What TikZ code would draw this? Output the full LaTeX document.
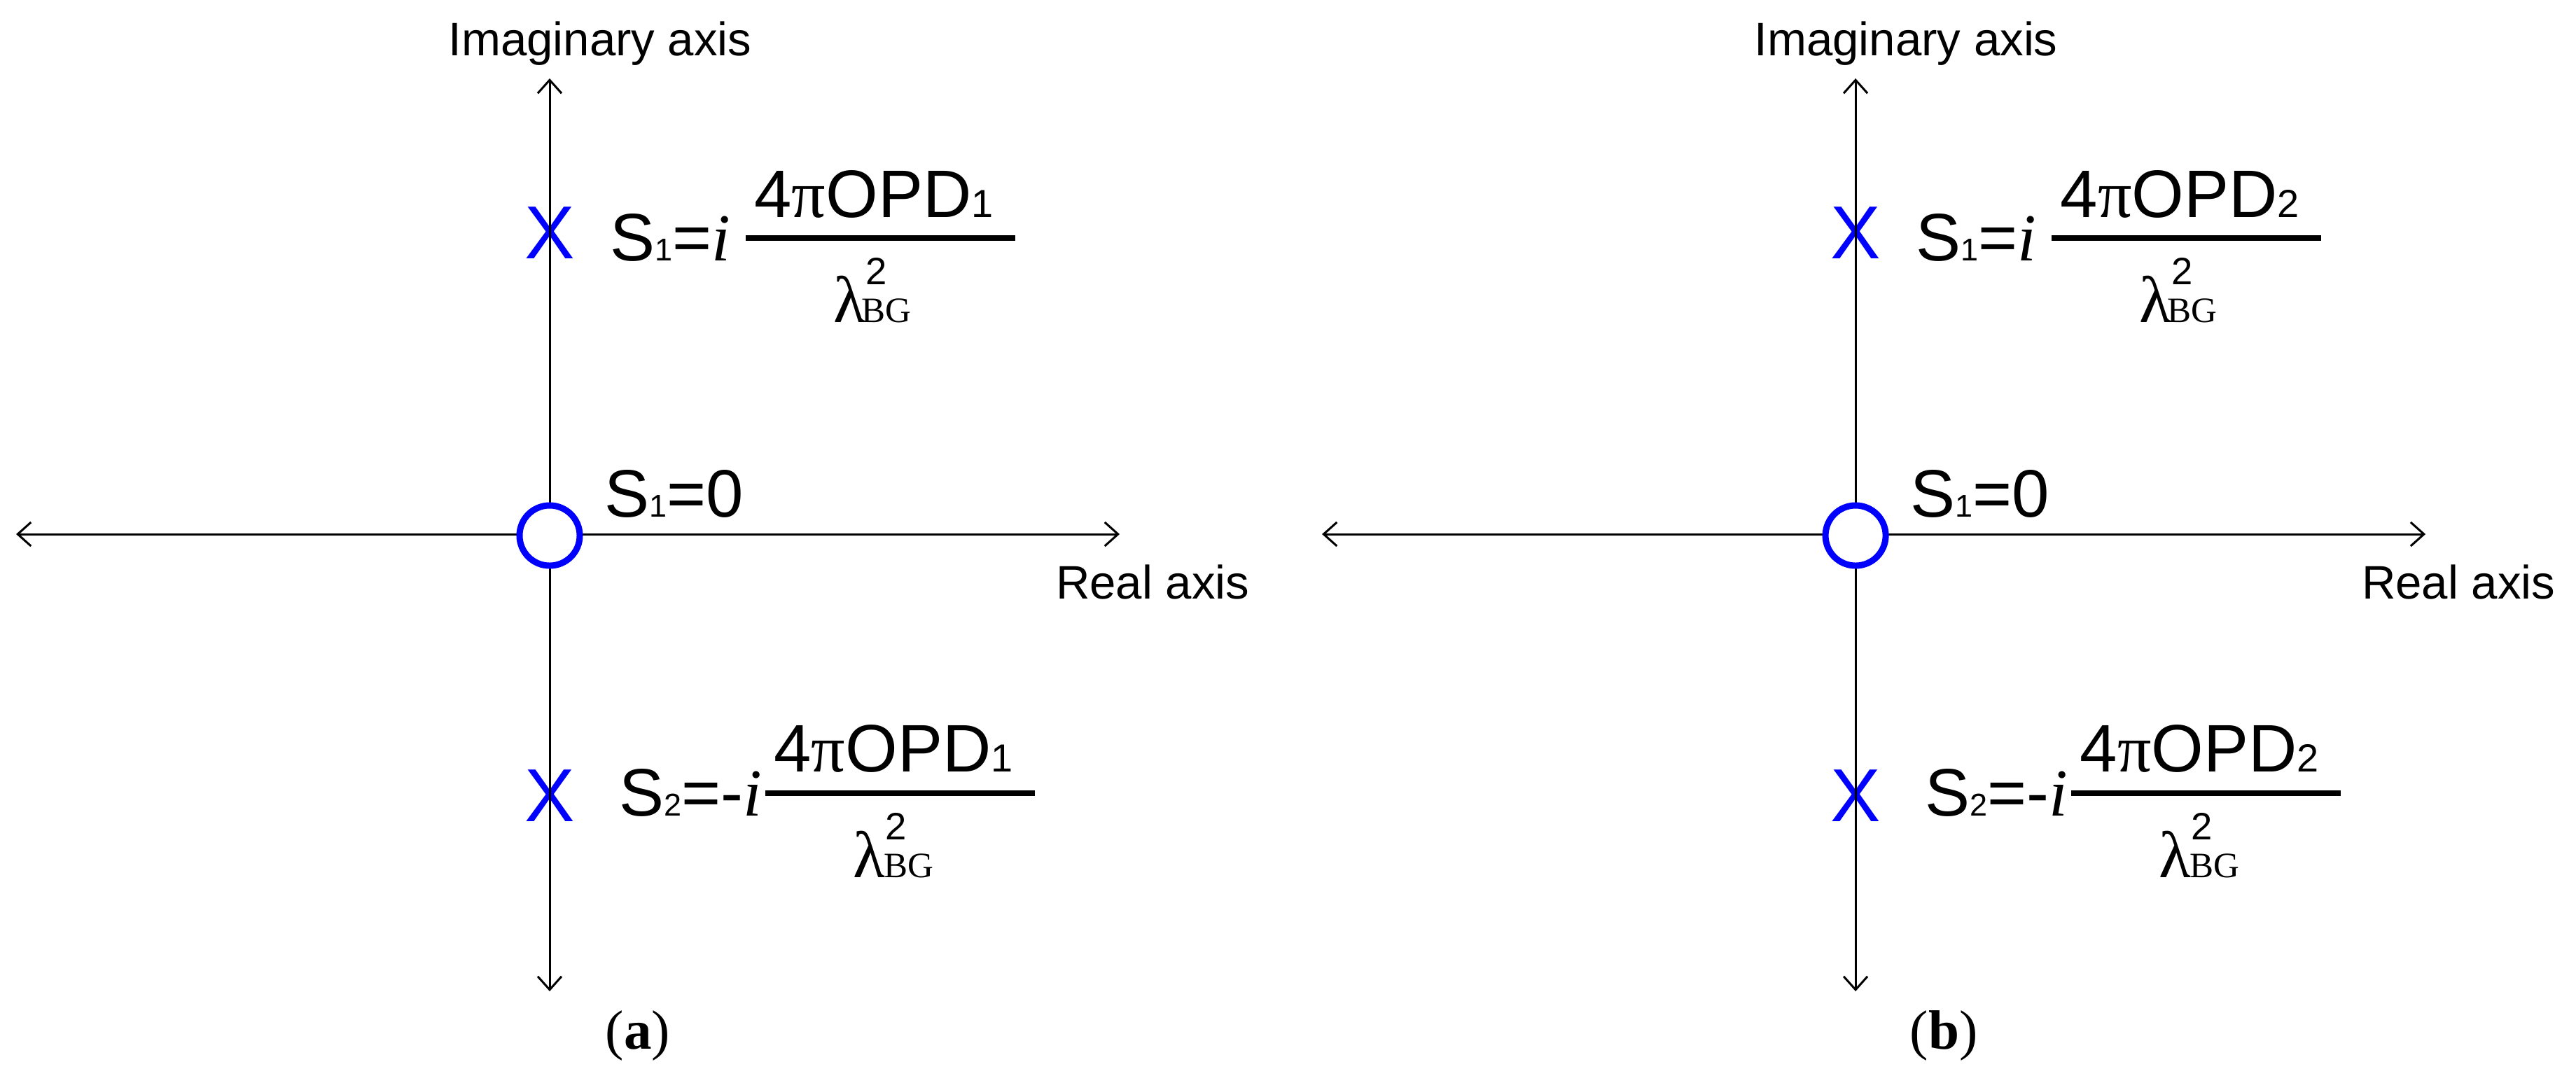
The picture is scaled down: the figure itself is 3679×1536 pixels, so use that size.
\documentclass[tikz,border=0pt]{standalone}
\usepackage{fontspec}
\setmainfont{Liberation Sans}
\newfontfamily\tms{Liberation Serif}
\usetikzlibrary{arrows.meta}
\definecolor{markblue}{RGB}{0,0,255}
\newcommand\fs[1]{\fontsize{#1}{#1}\selectfont}
\tikzset{
  axisline/.style={line width=0.03cm,
    {Straight Barb[length=0.19cm,width=0.34cm]}-{Straight Barb[length=0.19cm,width=0.34cm]}},
  txt/.style={inner sep=0pt, outer sep=0pt, anchor=base west},
  big/.style={txt, font=\fs{27.3}},
  numer/.style={inner sep=0pt, outer sep=0pt, anchor=base, font=\fs{27.3}},
  lam/.style={txt, font=\tms\fs{26.8}},
  supr/.style={txt, font=\fs{15.5}},
  bgsub/.style={txt, font=\tms\fs{14.5}},
  lbl/.style={inner sep=0pt, outer sep=0pt, font=\fs{19.1}},
  fracbar/.style={line width=0.08cm},
  xmark/.style={inner sep=0pt, outer sep=0pt, text=markblue, font=\fs{30.5}, anchor=center},
  zero/.style={circle, draw=markblue, fill=white, line width=0.09cm, minimum size=0.86cm, inner sep=0pt},
  plabel/.style={inner sep=0pt, outer sep=0pt, anchor=base, font=\tms\fs{22.5}}
}
\newcommand\drawpanel[4]{%
\begin{scope}[xshift=#2cm]
  % markers
  \node[xmark] (#1x1) at (785,333) {X};
  \node[xmark] (#1x2) at (785,1137) {X};
  % axes
  \coordinate (#1T) at (785,112);
  \coordinate (#1B) at (785,1416);
  \coordinate (#1L) at (23,763);
  \coordinate (#1R) at (1599,763);
  \draw[axisline] (#1L) -- (#1R);
  \draw[axisline] (#1B) -- (#1T);
  \node[zero] (#1o) at (785,765) {};
  % axis labels
  \node[lbl, anchor=base] (#1im) at (857,79) {Imaginary axis};
  \node[lbl, anchor=base west] (#1re) at (1508,855) {Real axis};
  % S1 = 0
  \node[big] (#1z) at (863,738) {S{\fs{12.8}1}=0};
  % upper formula
  \node[big] (#1s1) at (871,372) {S{\fs{12.8}1}={\tms\itshape i}};
  \node[numer] (#1n1) at (1248,310) {4{\tms π}OPD{\fs{15.9}#3}};
  \draw[fracbar] (1065,340) -- (1450,340);
  \node[lam] (#1l1) at (1190,460) {λ};
  \node[supr] (#1p1) at (1236,406) {2};
  \node[bgsub] (#1g1) at (1230,460) {BG};
  % lower formula
  \node[big] (#1s2) at (884,1165) {S{\fs{12.8}2}=-{\tms\itshape i}};
  \node[numer] (#1n2) at (1276,1102) {4{\tms π}OPD{\fs{15.9}#3}};
  \draw[fracbar] (1093,1133) -- (1478,1133);
  \node[lam] (#1l2) at (1218,1253) {λ};
  \node[supr] (#1p2) at (1264,1199) {2};
  \node[bgsub] (#1g2) at (1262,1253) {BG};
  % panel label
  \node[plabel] (#1lab) at (911,1498) {(\textbf{#4})};
\end{scope}}
\begin{document}
\begin{tikzpicture}[x=0.01cm, y=-0.01cm]
  \useasboundingbox (0,0) rectangle (3679,1536);
  \drawpanel{a}{0}{1}{a}
  \drawpanel{b}{18.64}{2}{b}
\end{tikzpicture}
\end{document}
